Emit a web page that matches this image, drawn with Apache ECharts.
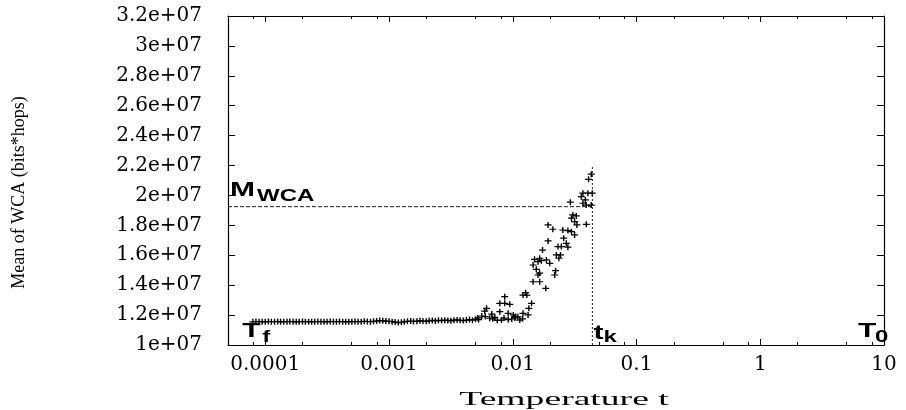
<!DOCTYPE html>
<html><head><meta charset="utf-8">
<script src="https://cdn.jsdelivr.net/npm/echarts@6/dist/echarts.min.js"></script>
<style>html,body{margin:0;padding:0;background:#fff}#c{width:906px;height:410px}</style>
</head><body><div id="c"></div>
<script>
// ---- data ----
const temperature = [
  7.94e-5,8.41e-5,8.91e-5,9.44e-5,1.00e-4,1.06e-4,1.12e-4,1.19e-4,1.26e-4,1.33e-4,
  1.41e-4,1.50e-4,1.58e-4,1.68e-4,1.78e-4,1.88e-4,2.00e-4,2.11e-4,2.24e-4,2.37e-4,
  2.51e-4,2.66e-4,2.82e-4,2.99e-4,3.16e-4,3.35e-4,3.55e-4,3.76e-4,3.98e-4,4.22e-4,
  4.47e-4,4.73e-4,5.01e-4,5.31e-4,5.62e-4,5.96e-4,6.31e-4,6.68e-4,7.08e-4,7.50e-4,
  7.94e-4,8.41e-4,8.91e-4,9.44e-4,1.00e-3,1.06e-3,1.12e-3,1.19e-3,1.26e-3,1.33e-3,
  1.41e-3,1.50e-3,1.58e-3,1.68e-3,1.78e-3,1.88e-3,2.00e-3,2.11e-3,2.24e-3,2.37e-3,
  2.51e-3,2.66e-3,2.82e-3,2.99e-3,3.16e-3,3.35e-3,3.55e-3,3.76e-3,3.98e-3,4.22e-3,
  4.47e-3,4.73e-3,5.01e-3,
  0.0431,0.0410,0.0369,0.0405,0.0439,0.0358,0.0386,0.0369,0.0393,0.0431,
  0.0292,0.0306,0.0326,0.0298,0.0316,0.0330,0.0393,0.0193,0.0211,0.0254,
  0.0279,0.0298,0.0316,0.0258,0.0271,0.0279,0.0247,0.0232,0.0193,0.0174,
  0.0165,0.0150,0.0160,0.0170,0.0187,0.0199,0.0236,0.0225,0.0243,0.0146,
  0.0155,0.0165,0.0160,0.0222,0.0218,0.0146,0.0165,0.0185,0.0127,0.0121,
  0.0130,0.00862,0.00786,0.00862,0.00946,0.0142,0.0135,0.00614,0.00594,0.00786,
  0.00917,0.0101,0.0110,0.0121,0.0133,0.00652,0.00716,0.00811,0.0104,0.00522,
  0.00562,0.00677,0.00982,0.0114,
  0.00530,0.00600,0.00690,0.00750,0.00850,0.00920,0.0105,0.0120
];
const meanWCA = [
  1.155e7,1.157e7,1.156e7,1.156e7,1.155e7,1.157e7,1.156e7,1.156e7,1.157e7,1.155e7,
  1.156e7,1.156e7,1.157e7,1.156e7,1.155e7,1.156e7,1.157e7,1.156e7,1.156e7,1.155e7,
  1.156e7,1.157e7,1.156e7,1.156e7,1.155e7,1.157e7,1.156e7,1.156e7,1.157e7,1.156e7,
  1.155e7,1.156e7,1.156e7,1.157e7,1.156e7,1.156e7,1.158e7,1.157e7,1.156e7,1.158e7,
  1.160e7,1.163e7,1.162e7,1.160e7,1.158e7,1.156e7,1.153e7,1.150e7,1.152e7,1.155e7,
  1.158e7,1.160e7,1.157e7,1.159e7,1.162e7,1.160e7,1.158e7,1.162e7,1.164e7,1.161e7,
  1.165e7,1.163e7,1.166e7,1.164e7,1.162e7,1.166e7,1.168e7,1.165e7,1.163e7,1.167e7,
  1.170e7,1.166e7,1.172e7,
  2.142e7,2.108e7,2.015e7,2.015e7,2.015e7,1.992e7,1.970e7,1.948e7,1.936e7,1.936e7,
  1.955e7,1.870e7,1.863e7,1.848e7,1.825e7,1.803e7,1.807e7,1.803e7,1.774e7,1.769e7,
  1.765e7,1.758e7,1.736e7,1.714e7,1.680e7,1.654e7,1.658e7,1.658e7,1.696e7,1.635e7,
  1.580e7,1.573e7,1.557e7,1.564e7,1.569e7,1.546e7,1.580e7,1.602e7,1.602e7,1.535e7,
  1.506e7,1.480e7,1.468e7,1.497e7,1.468e7,1.423e7,1.423e7,1.379e7,1.350e7,1.334e7,
  1.334e7,1.323e7,1.279e7,1.279e7,1.272e7,1.279e7,1.245e7,1.245e7,1.227e7,1.223e7,
  1.212e7,1.201e7,1.189e7,1.212e7,1.201e7,1.179e7,1.185e7,1.167e7,1.181e7,1.181e7,
  1.194e7,1.207e7,1.174e7,1.167e7,
  1.170e7,1.190e7,1.175e7,1.165e7,1.180e7,1.170e7,1.190e7,1.175e7
];
const xTickValues = [1e-4, 1e-3, 1e-2, 1e-1, 1, 10];
const xTickLabels = ['0.0001', '0.001', '0.01', '0.1', '1', '10'];
const xMinorTicks = [8e-5, 2e-4, 5e-4, 8e-4, 2e-3, 5e-3, 8e-3, 2e-2, 5e-2, 8e-2, 0.2, 0.5, 0.8, 2, 5, 8];
const yTickLabels = ['1e+07','1.2e+07','1.4e+07','1.6e+07','1.8e+07','2e+07','2.2e+07','2.4e+07','2.6e+07','2.8e+07','3e+07','3.2e+07'];
const xMin = 5e-5, xMax = 10;
const yMin = 1e7, yMax = 3.2e7, yStep = 2e6;
const mWCA = 1.925e7;     // M_WCA level
const tK = 0.0440;        // t_k
const tKTop = 2.2e7;      // top of t_k marker
const tF = 8e-5;          // T_f
const t0 = 10;            // T_0
const xTitle = 'Temperature t';
const yTitle = 'Mean of WCA (bits*hops)';

// ---- chart ----
const chart = echarts.init(document.getElementById('c'), null, {renderer: 'canvas'});
const black = '#000';
const xLabelFmt = v => {
  for (let i = 0; i < xTickValues.length; i++) {
    if (Math.abs(Math.log10(v) - Math.log10(xTickValues[i])) < 1e-6) return xTickLabels[i];
  }
  return '';
};
const xBase = {type: 'log', logBase: 10, min: xMin, max: xMax, splitLine: {show: false}, minorTick: {show: false}};
const tickFont = {fontFamily: 'DejaVu Serif', fontSize: 20, color: black};

const option = {
  animation: false,
  backgroundColor: '#fff',
  grid: {left: 228, right: 22, top: 16, bottom: 65, containLabel: false},
  xAxis: [
    Object.assign({}, xBase, {position: 'bottom',
      axisLine: {show: true, onZero: false, lineStyle: {color: black, width: 1.2}},
      axisTick: {show: true, inside: true, length: 6, customValues: xTickValues, lineStyle: {color: black}},
      axisLabel: Object.assign({show: true, customValues: xTickValues, formatter: xLabelFmt, margin: 10}, tickFont)}),
    Object.assign({}, xBase, {position: 'bottom',
      axisLine: {show: false, onZero: false},
      axisTick: {show: true, inside: true, length: 3, customValues: xMinorTicks, lineStyle: {color: black}},
      axisLabel: {show: false}}),
    Object.assign({}, xBase, {position: 'top',
      axisLine: {show: true, onZero: false, lineStyle: {color: black, width: 1.2}},
      axisTick: {show: true, inside: true, length: 6, customValues: xTickValues, lineStyle: {color: black}},
      axisLabel: {show: false}}),
    Object.assign({}, xBase, {position: 'top',
      axisLine: {show: false, onZero: false},
      axisTick: {show: true, inside: true, length: 3, customValues: xMinorTicks, lineStyle: {color: black}},
      axisLabel: {show: false}})
  ],
  yAxis: [
    {type: 'value', min: yMin, max: yMax, interval: yStep, position: 'left',
      axisLine: {show: true, onZero: false, lineStyle: {color: black, width: 1.2}},
      axisTick: {show: true, inside: true, length: 7, lineStyle: {color: black}},
      axisLabel: Object.assign({formatter: v => yTickLabels[Math.round((v - yMin) / yStep)] || '', margin: 26}, tickFont),
      splitLine: {show: false},
      name: yTitle, nameLocation: 'middle', nameGap: 200, nameRotate: 90,
      nameTextStyle: {fontFamily: 'Liberation Serif', fontSize: 18, color: black, padding: [0, 24, 0, 0]}},
    {type: 'value', min: yMin, max: yMax, interval: yStep, position: 'right',
      axisLine: {show: true, onZero: false, lineStyle: {color: black, width: 1.2}},
      axisTick: {show: true, inside: true, length: 7, lineStyle: {color: black}},
      axisLabel: {show: false}, splitLine: {show: false}}
  ],
  series: [
    {type: 'scatter', xAxisIndex: 0, yAxisIndex: 0,
      data: temperature.map((t, i) => [t, meanWCA[i]]),
      symbol: 'path://M0,5L10,5M5,0L5,10', symbolSize: [7, 6],
      itemStyle: {color: 'none', borderColor: '#000', borderWidth: 1.3, opacity: 1},
      emphasis: {disabled: true}, silent: true, z: 3},
    {type: 'line', xAxisIndex: 0, yAxisIndex: 0, data: [[xMin, mWCA], [tK, mWCA]],
      symbol: 'none', silent: true, lineStyle: {color: '#222', width: 1, type: [4, 2]}, z: 2},
    {type: 'line', xAxisIndex: 0, yAxisIndex: 0, data: [[tK, yMin], [tK, tKTop]],
      symbol: 'none', silent: true, lineStyle: {color: '#222', width: 1, type: [2, 2]}, z: 2}
  ]
};
chart.setOption(option);

// ---- annotations anchored at data coordinates ----
const px = (x, y) => chart.convertToPixel({xAxisIndex: 0, yAxisIndex: 0}, [x, y]);
const big = 'bold 20px "Liberation Sans"';
const small = 'bold 16px "Liberation Sans"';
const sx = 1.5;
function txt(text, x, y, font, scaleX, align) {
  return {type: 'text', x: x, y: y, scaleX: scaleX, silent: true, z: 10,
    style: {text: text, x: 0, y: 0, font: font, fill: black,
      textAlign: align || 'left', textVerticalAlign: 'middle', align: align || 'left', verticalAlign: 'middle'}};
}
const pM = px(xMin, mWCA);
const pF = px(tF, yMin);
const pK = px(tK, yMin);
const p0 = px(t0, yMin);
const pC = px(Math.sqrt(xMin * xMax), yMin);
chart.setOption({
  graphic: [
    txt('M', pM[0] + 2, pM[1] - 16.6, big, sx),
    txt('WCA', pM[0] + 29, pM[1] - 10.2, small, sx),
    txt('T', pF[0] - 11, pF[1] - 13.9, big, sx),
    txt('f', pF[0] + 9, pF[1] - 7.5, small, sx),
    txt('t', pK[0] + 1, pK[1] - 12, big, sx),
    txt('k', pK[0] + 11, pK[1] - 7.5, small, sx),
    txt('T', p0[0] - 26, p0[1] - 13.9, big, sx),
    txt('0', p0[0] - 9, p0[1] - 7.5, small, sx),
    {type: 'text', x: pC[0] + 8, y: 400, scaleX: 2.09, silent: true,
      style: {text: xTitle, x: 0, y: 0, font: '18px "Liberation Serif"', fill: black,
        textAlign: 'center', textVerticalAlign: 'middle', align: 'center', verticalAlign: 'middle'}}
  ]
});
</script>
</body></html>
